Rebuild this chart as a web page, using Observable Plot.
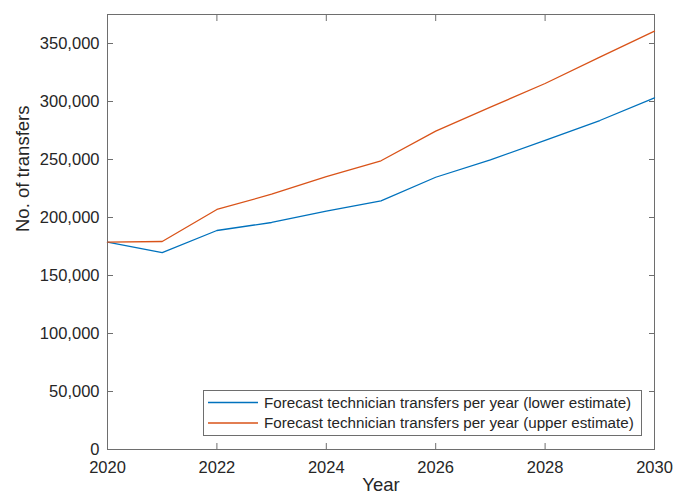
<!DOCTYPE html>
<html>
<head>
<meta charset="utf-8">
<script src="https://cdn.jsdelivr.net/npm/d3@7"></script>
<script src="https://cdn.jsdelivr.net/npm/@observablehq/plot@0.6"></script>
<style>
  html, body { margin: 0; padding: 0; background: #fff; }
  #chart svg { display: block; }
</style>
</head>
<body>
<div id="chart"></div>
<script>
// Forecast technician transfers per year, 2020–2030
const years = [2020, 2021, 2022, 2023, 2024, 2025, 2026, 2027, 2028, 2029, 2030];
const lowerEstimate = [178700, 169800, 188800, 195700, 205400, 214400, 234700, 249700, 266400, 283600, 303200];
const upperEstimate = [178700, 179300, 206900, 220100, 235300, 248900, 274400, 295100, 315500, 338200, 360600];
const seriesNames = [
  "Forecast technician transfers per year (lower estimate)",
  "Forecast technician transfers per year (upper estimate)"
];
const seriesColors = ["#0072BD", "#D95319"];
const xTicks = [2020, 2022, 2024, 2026, 2028, 2030];
const yTicks = [0, 50000, 100000, 150000, 200000, 250000, 300000, 350000];

const rows = [
  ...years.map((year, i) => ({year, value: lowerEstimate[i], series: seriesNames[0]})),
  ...years.map((year, i) => ({year, value: upperEstimate[i], series: seriesNames[1]}))
];

const font = "'Liberation Sans', Arial, Helvetica, sans-serif";
const ink = "#262626";
const axisGray = "#6e6e6e";
const tick = 6;

const chart = Plot.plot({
  width: 686,
  height: 498,
  marginLeft: 107,
  marginRight: 32,
  marginTop: 14,
  marginBottom: 49,
  style: {fontFamily: font, color: ink, background: "#fff", overflow: "visible"},
  x: {domain: [2020, 2030]},
  y: {domain: [0, 375000]},
  color: {domain: seriesNames, range: seriesColors},
  marks: [
    Plot.frame({stroke: axisGray, strokeWidth: 1}),
    // tick labels
    Plot.axisX(xTicks, {anchor: "bottom", tickSize: 0, tickPadding: 12, tickFormat: "d", fontSize: 16.5, fill: ink, label: null}),
    Plot.axisY(yTicks, {anchor: "left", tickSize: 0, tickPadding: 8, tickFormat: d3.format(","), fontSize: 16.5, fill: ink, label: null}),
    // tick marks pointing into the plot area on all four sides
    Plot.axisX(xTicks, {anchor: "bottom", tickSize: tick, dy: -tick, text: null, stroke: axisGray, label: null}),
    Plot.axisX(xTicks, {anchor: "top", tickSize: tick, dy: tick, text: null, stroke: axisGray, label: null}),
    Plot.axisY(yTicks, {anchor: "left", tickSize: tick, dx: tick, text: null, stroke: axisGray, label: null}),
    Plot.axisY(yTicks, {anchor: "right", tickSize: tick, dx: -tick, text: null, stroke: axisGray, label: null}),
    // axis titles
    Plot.text(["Year"], {frameAnchor: "bottom", dy: 41, fontSize: 18.5, fill: ink}),
    Plot.text(["No. of transfers"], {frameAnchor: "left", dx: -84.5, rotate: -90, fontSize: 18.5, fill: ink}),
    // series lines
    Plot.line(rows, {x: "year", y: "value", z: "series", stroke: "series", strokeWidth: 1.3})
  ]
});

document.getElementById("chart").appendChild(chart);

// legend box in the lower right of the plot area
const svg = d3.select(chart);
const legend = svg.append("g")
  .attr("font-family", font)
  .attr("font-size", 15.2)
  .attr("text-anchor", "start");
legend.append("rect")
  .attr("x", 203.5).attr("y", 390.5).attr("width", 438).attr("height", 45)
  .attr("fill", "#fff").attr("stroke", axisGray).attr("stroke-width", 1);
seriesNames.forEach((name, i) => {
  const y = 402.5 + i * 20.5;
  legend.append("line")
    .attr("x1", 208).attr("x2", 258).attr("y1", y).attr("y2", y)
    .attr("stroke", seriesColors[i]).attr("stroke-width", 1.3);
  legend.append("text")
    .attr("x", 264).attr("y", y).attr("dy", "0.35em")
    .attr("text-anchor", "start")
    .attr("fill", ink).text(name);
});
</script>
</body>
</html>
